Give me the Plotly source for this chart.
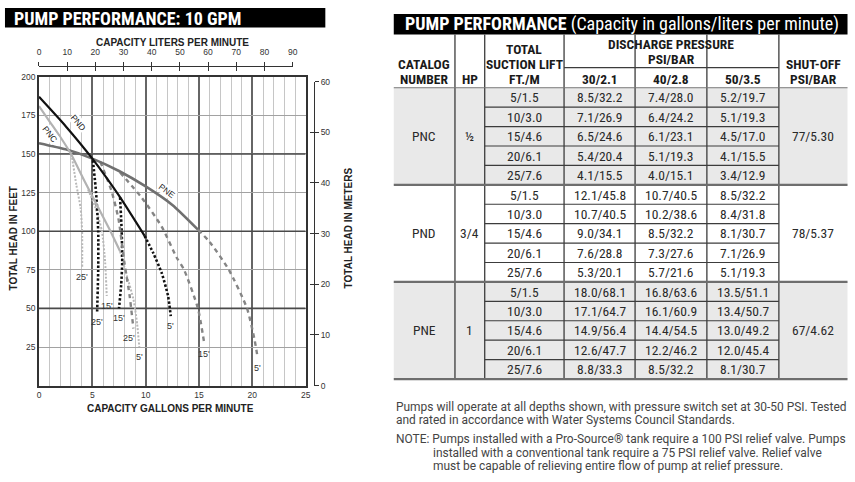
import plotly.graph_objects as go

W, H = 855, 482

# ---------------- chart data (capacity in GPM vs total head in feet) ----------------
pnc_gpm = [0, 1.0, 2.0, 3.0, 4.3, 5.5, 6.7, 7.6]
pnc_ft = [181, 171, 161, 150, 132, 116, 100, 87]
pnd_gpm = [0, 2.5, 5.0, 7.5, 9.9]
pnd_ft = [187, 168, 147, 123, 97]
pne_gpm = [0, 2.5, 5.0, 7.5, 10.0, 12.5, 14.9]
pne_ft = [157, 153, 147, 139, 129, 117, 101]

# suction-lift branches
pnc_5_gpm = [7.6, 8.2, 8.85, 9.2, 9.4]
pnc_5_ft = [87, 72, 56, 40, 25]
pnc_15_gpm = [4.6, 5.3, 5.9, 6.2, 6.35]
pnc_15_ft = [127, 115, 100, 80, 58]
pnc_25_gpm = [3.05, 3.5, 3.9, 4.04, 4.05]
pnc_25_ft = [150, 130, 115, 100, 77]
pnd_5_gpm = [9.9, 10.7, 11.5, 12.1, 12.35]
pnd_5_ft = [97, 86, 73, 58, 45]
pnd_15_gpm = [7.6, 7.75, 7.8, 7.7, 7.5]
pnd_15_ft = [122, 100, 80, 65, 50]
pnd_25_gpm = [5.05, 5.35, 5.55, 5.55, 5.45]
pnd_25_ft = [146, 125, 100, 75, 48]
pne_5_gpm = [14.9, 16.0, 17.8, 19.5, 20.2, 20.5]
pne_5_ft = [101, 93, 75, 50, 30, 18]
pne_15_gpm = [7.6, 9.6, 11.5, 12.9, 13.6, 14.9, 15.5]
pne_15_ft = [138, 122, 103, 83, 75, 50, 27]
pne_25_gpm = [5.75, 6.8, 7.45, 8.0, 8.5, 8.85]
pne_25_ft = [145, 126, 108, 80, 58, 37]

gpm_ticks = [0, 5, 10, 15, 20, 25]
ft_ticks = [25, 50, 75, 100, 125, 150, 175, 200]
ft_major = [50, 100, 150]
lpm_ticks = [0, 10, 20, 30, 40, 50, 60, 70, 80, 90]
m_ticks = [0, 10, 20, 30, 40, 50, 60]

# ---------------- table data ----------------
catalog = ["PNC", "PND", "PNE"]
hp = ["½", "3/4", "1"]
lift = ["5/1.5", "10/3.0", "15/4.6", "20/6.1", "25/7.6"]
psi30 = [["8.5/32.2", "7.1/26.9", "6.5/24.6", "5.4/20.4", "4.1/15.5"],
         ["12.1/45.8", "10.7/40.5", "9.0/34.1", "7.6/28.8", "5.3/20.1"],
         ["18.0/68.1", "17.1/64.7", "14.9/56.4", "12.6/47.7", "8.8/33.3"]]
psi40 = [["7.4/28.0", "6.4/24.2", "6.1/23.1", "5.1/19.3", "4.0/15.1"],
         ["10.7/40.5", "10.2/38.6", "8.5/32.2", "7.3/27.6", "5.7/21.6"],
         ["16.8/63.6", "16.1/60.9", "14.4/54.5", "12.2/46.2", "8.5/32.2"]]
psi50 = [["5.2/19.7", "5.1/19.3", "4.5/17.0", "4.1/15.5", "3.4/12.9"],
         ["8.5/32.2", "8.4/31.8", "8.1/30.7", "7.1/26.9", "5.1/19.3"],
         ["13.5/51.1", "13.4/50.7", "13.0/49.2", "12.0/45.4", "8.1/30.7"]]
shutoff = ["77/5.30", "78/5.37", "67/4.62"]
pressure_heads = ["30/2.1", "40/2.8", "50/3.5"]

notes1 = ["Pumps will operate at all depths shown, with pressure switch set at 30-50 PSI. Tested",
          "and rated in accordance with Water Systems Council Standards."]
notes2 = ["NOTE: Pumps installed with a Pro-Source® tank require a 100 PSI relief valve. Pumps",
          "installed with a conventional tank require a 75 PSI relief valve. Relief valve",
          "must be capable of relieving entire flow of pump at relief pressure."]

# ---------------- layout geometry (pixels) ----------------
PX_L, PX_R = 37.3, 306.2      # x of 0 and 25 gpm
PY_T, PY_B = 73.3, 388.7      # y of 200 and 0 ft
L_PER_GAL = 3.78541
FT_PER_M = 3.28084

COND = "Roboto Condensed, Liberation Sans Narrow, Arial Narrow, DejaVu Sans Condensed, Roboto, sans-serif"
SANS = "Liberation Sans, Arial, sans-serif"
NOTEF = "Roboto, sans-serif"


def fx(x):
    return x / W


def fy(y):
    return 1 - y / H


fig = go.Figure()

styles = {
    "PNC": dict(main=dict(color="#b2b2b2", width=2.2), branch=dict(color="#b8b8b8", width=2, dash="2px,1.6px")),
    "PND": dict(main=dict(color="#111111", width=2.2), branch=dict(color="#111111", width=2.6, dash="2.4px,2px")),
    "PNE": dict(main=dict(color="#707070", width=2.6), branch=dict(color="#858585", width=2.4, dash="4.5px,4px")),
}

branches = [
    ("PNC", pnc_25_gpm, pnc_25_ft, "25'"), ("PNC", pnc_15_gpm, pnc_15_ft, "15'"), ("PNC", pnc_5_gpm, pnc_5_ft, "5'"),
    ("PND", pnd_25_gpm, pnd_25_ft, "25'"), ("PND", pnd_15_gpm, pnd_15_ft, "15'"), ("PND", pnd_5_gpm, pnd_5_ft, "5'"),
    ("PNE", pne_25_gpm, pne_25_ft, "25'"), ("PNE", pne_15_gpm, pne_15_ft, "15'"), ("PNE", pne_5_gpm, pne_5_ft, "5'"),
]
for model, gx, gy, lab in branches:
    fig.add_trace(go.Scatter(x=gx, y=gy, mode="lines", line=dict(shape="spline", smoothing=0.6, **styles[model]["branch"]),
                             hoverinfo="skip"))

mains = [("PNE", pne_gpm, pne_ft), ("PNC", pnc_gpm, pnc_ft), ("PND", pnd_gpm, pnd_ft)]
for model, gx, gy in mains:
    fig.add_trace(go.Scatter(x=gx, y=gy, mode="lines", line=dict(shape="spline", smoothing=0.6, **styles[model]["main"]),
                             hoverinfo="skip"))

# dummy traces to realise the liters / meters axes
for xa, ya in [("x2", "y2"), ("x3", "y2"), ("x2", "y3")]:
    fig.add_trace(go.Scatter(x=[0], y=[0], xaxis=xa, yaxis=ya, mode="markers",
                             marker=dict(size=1, opacity=0), hoverinfo="skip"))

annotations = []
shapes = []

# branch labels at the end of each suction-lift curve
label_dx = {"PNE25'": -4}
for model, gx, gy, lab in branches:
    annotations.append(dict(x=gx[-1], y=gy[-1], xref="x", yref="y", text=lab, showarrow=False,
                            xanchor="center", yanchor="middle",
                            yshift=-10, xshift=label_dx.get(model + lab, 0),
                            font=dict(family=SANS, size=9, color="#333")))

# model labels along the main curves
model_labels = [("PND", 3.7, 170, 50), ("PNC", 1.0, 163, 52), ("PNE", 12.0, 126, 37)]
for name, gx, gy, ang in model_labels:
    annotations.append(dict(x=gx, y=gy, xref="x", yref="y", text=name, showarrow=False, textangle=ang,
                            xanchor="center", yanchor="middle",
                            bgcolor="white", borderpad=0, font=dict(family=SANS, size=8.5, color="#222")))

# darker major horizontal gridlines
for v in ft_major:
    shapes.append(dict(type="line", xref="x", yref="y", x0=0, x1=25, y0=v, y1=v,
                       line=dict(color="#4a4a4a", width=1.6), layer="between"))


def title(x, y, text, angle=0):
    annotations.append(dict(x=fx(x), y=fy(y), xref="paper", yref="paper", text="<b>%s</b>" % text,
                            xanchor="center", yanchor="middle", textangle=angle, showarrow=False,
                            font=dict(family=SANS, size=10, color="#222")))


title(171.5, 38, "CAPACITY LITERS PER MINUTE")
title(170, 412.5, "CAPACITY GALLONS PER MINUTE")
title(11.5, 238, "TOTAL HEAD IN FEET", -90)
title(349, 228, "TOTAL HEAD IN METERS", -90)

# left title bar
shapes.append(dict(type="rect", xref="paper", yref="paper", x0=fx(3), x1=fx(326), y0=fy(23), y1=fy(3),
                   fillcolor="black", line=dict(width=0), layer="above"))
annotations.append(dict(x=fx(10), y=fy(13.5), xref="paper", yref="paper", xanchor="left", yanchor="middle",
                        text="<b>PUMP PERFORMANCE: 10 GPM</b>", showarrow=False,
                        font=dict(family=COND, size=18, color="white")))

# ---------------- table ----------------
col_x = [395, 456.7, 486.7, 566.7, 638.3, 710.7, 783.3, 852.5]
T_BAR = 9.3
T_TOP = 30
T_MID = 64
T_HDR = 84.5
ROW_H = 19.83
N_SUB = len(lift)
block_fill = ["#e9e9e9", "#ffffff", "#e9e9e9"]
T_BOT = T_HDR + ROW_H * N_SUB * len(catalog)

shapes.append(dict(type="rect", xref="paper", yref="paper", x0=fx(col_x[0]), x1=fx(col_x[-1]),
                   y0=fy(T_TOP), y1=fy(T_BAR), fillcolor="black", line=dict(width=0)))
annotations.append(dict(x=fx(404), y=fy(19.8), xref="paper", yref="paper", xanchor="left", yanchor="middle",
                        text="<b>PUMP PERFORMANCE</b> (Capacity in gallons/liters per minute)", showarrow=False,
                        font=dict(family=COND, size=18, color="white")))

for b in range(len(catalog)):
    y0 = T_HDR + b * N_SUB * ROW_H
    shapes.append(dict(type="rect", xref="paper", yref="paper", x0=fx(col_x[0]), x1=fx(col_x[-1]),
                       y0=fy(y0 + N_SUB * ROW_H), y1=fy(y0), fillcolor=block_fill[b], line=dict(width=0)))

LINE = "#3c3c3c"
# vertical column lines
for cx in col_x[1:-1]:
    shapes.append(dict(type="line", xref="paper", yref="paper", x0=fx(cx), x1=fx(cx), y0=fy(T_BOT), y1=fy(T_TOP),
                       line=dict(color=LINE, width=1.3)))
# header internal line
shapes.append(dict(type="line", xref="paper", yref="paper", x0=fx(col_x[3]), x1=fx(col_x[6]), y0=fy(T_MID), y1=fy(T_MID),
                   line=dict(color=LINE, width=1.3)))
# row lines inside blocks
for b in range(len(catalog)):
    for r in range(1, N_SUB):
        yy = T_HDR + (b * N_SUB + r) * ROW_H
        shapes.append(dict(type="line", xref="paper", yref="paper", x0=fx(col_x[2]), x1=fx(col_x[6]),
                           y0=fy(yy), y1=fy(yy), line=dict(color=LINE, width=1.2)))
# block separators
shapes.append(dict(type="line", xref="paper", yref="paper", x0=fx(col_x[0]), x1=fx(col_x[-1]),
                   y0=fy(T_HDR), y1=fy(T_HDR), line=dict(color="#777", width=1)))
for b in range(1, len(catalog) + 1):
    yy = T_HDR + b * N_SUB * ROW_H
    shapes.append(dict(type="line", xref="paper", yref="paper", x0=fx(col_x[0]), x1=fx(col_x[-1]),
                       y0=fy(yy), y1=fy(yy), line=dict(color="#6e6e6e", width=2.2)))


def tt(x, y, text, size=13.5, bold=False, color="#2a2a2a", xanchor="center", family=COND):
    annotations.append(dict(x=fx(x), y=fy(y), xref="paper", yref="paper", xanchor=xanchor, yanchor="middle",
                            text=("<b>%s</b>" % text) if bold else text, showarrow=False,
                            font=dict(family=family, size=size, color=color)))


def cc(i):
    return (col_x[i] + col_x[i + 1]) / 2


HS = 13.5
HC = "#1a1a1a"
tt(cc(0), 60, "CATALOG", HS, True, HC)
tt(cc(0), 76, "NUMBER", HS, True, HC)
tt(cc(1), 76, "HP", HS, True, HC)
tt(cc(2), 44.5, "TOTAL", HS, True, HC)
tt(cc(2), 60, "SUCTION LIFT", HS, True, HC)
tt(cc(2), 76, "FT./M", HS, True, HC)
tt((col_x[3] + col_x[6]) / 2, 40, "DISCHARGE PRESSURE", HS, True, HC)
tt((col_x[3] + col_x[6]) / 2, 55.5, "PSI/BAR", HS, True, HC)
for i, ph in enumerate(pressure_heads):
    tt(cc(3 + i), 76, ph, HS, True, HC)
tt(cc(6), 60, "SHUT-OFF", HS, True, HC)
tt(cc(6), 76, "PSI/BAR", HS, True, HC)

for b in range(len(catalog)):
    yc = T_HDR + (b * N_SUB + N_SUB / 2) * ROW_H
    tt(cc(0), yc, catalog[b])
    tt(cc(1), yc, hp[b])
    tt(cc(6), yc, shutoff[b])
    for r in range(N_SUB):
        yr = T_HDR + (b * N_SUB + r + 0.5) * ROW_H
        tt(cc(2), yr, lift[r])
        tt(cc(3), yr, psi30[b][r])
        tt(cc(4), yr, psi40[b][r])
        tt(cc(5), yr, psi50[b][r])

NS = 11.95
for i, line in enumerate(notes1):
    tt(395, 411 + i * 13.3, line, NS, False, "#444", "left", NOTEF)
for i, line in enumerate(notes2):
    tt(395 if i == 0 else 432.5, 443.5 + i * 13.5, line, NS, False, "#444", "left", NOTEF)

# ---------------- axes ----------------
yd0 = fy(PY_B)
yd1 = fy(PY_T)
px_per_ft = (PY_B - PY_T) / 200.0
px_per_gpm = (PX_R - PX_L) / 25.0
lpm_right = PX_L + (lpm_ticks[-1] / L_PER_GAL) * px_per_gpm
m_top = PY_B - m_ticks[-1] * FT_PER_M * px_per_ft
LPM_Y = fy(62)
M_X = fx(314.3)

fig.update_layout(
    width=W, height=H, margin=dict(l=0, r=0, t=0, b=0),
    paper_bgcolor="white", plot_bgcolor="rgba(0,0,0,0)", showlegend=False,
    font=dict(family=SANS, size=9, color="#222"),
    xaxis=dict(domain=[fx(PX_L), fx(PX_R)], range=[0, 25], tickvals=gpm_ticks, showgrid=True,
               gridcolor="#666666", gridwidth=1.6,
               minor=dict(dtick=1, tick0=0, showgrid=True, gridcolor="#c6c6c6", gridwidth=1.3),
               showline=True, linecolor="#333", linewidth=1.6, mirror=True, zeroline=False, ticks="",
               tickfont=dict(family=SANS, size=8.5, color="#333"), anchor="y", fixedrange=True),
    yaxis=dict(domain=[yd0, yd1], range=[0, 200], tickvals=ft_ticks, showgrid=True,
               gridcolor="#a2a2a2", gridwidth=1.3, showline=True, linecolor="#333", linewidth=1.6,
               mirror=True, zeroline=False, ticks="", tickfont=dict(family=SANS, size=8.5, color="#333"),
               anchor="x", fixedrange=True),
    xaxis2=dict(domain=[fx(PX_L), fx(lpm_right)], range=[0, lpm_ticks[-1]], tickvals=lpm_ticks, anchor="free",
                position=LPM_Y, side="top", showline=True, linecolor="#333", linewidth=1.4, ticks="outside",
                ticklen=4, tickwidth=1.3, tickcolor="#333", showgrid=False, zeroline=False,
                ticklabelstandoff=3,
                tickfont=dict(family=SANS, size=8.5, color="#333"), fixedrange=True),
    xaxis3=dict(overlaying="x2", range=[0, lpm_ticks[-1]], tickvals=lpm_ticks, anchor="free", position=LPM_Y,
                side="top", showline=False, ticks="inside", ticklen=4, tickwidth=1.3, tickcolor="#333",
                showticklabels=False, showgrid=False, zeroline=False, fixedrange=True),
    yaxis2=dict(domain=[yd0, fy(m_top)], range=[0, m_ticks[-1]], tickvals=m_ticks, anchor="free", position=M_X,
                side="right", showline=True, linecolor="#333", linewidth=1.4, ticks="outside", ticklen=4,
                tickwidth=1.3, tickcolor="#333", showgrid=False, zeroline=False,
                tickfont=dict(family=SANS, size=8.5, color="#333"), fixedrange=True),
    yaxis3=dict(overlaying="y2", range=[0, m_ticks[-1]], tickvals=m_ticks, anchor="free", position=M_X,
                side="right", showline=False, ticks="inside", ticklen=4, tickwidth=1.3, tickcolor="#333",
                showticklabels=False, showgrid=False, zeroline=False, fixedrange=True),
    shapes=shapes, annotations=annotations,
)

fig.write_html("out.html")
